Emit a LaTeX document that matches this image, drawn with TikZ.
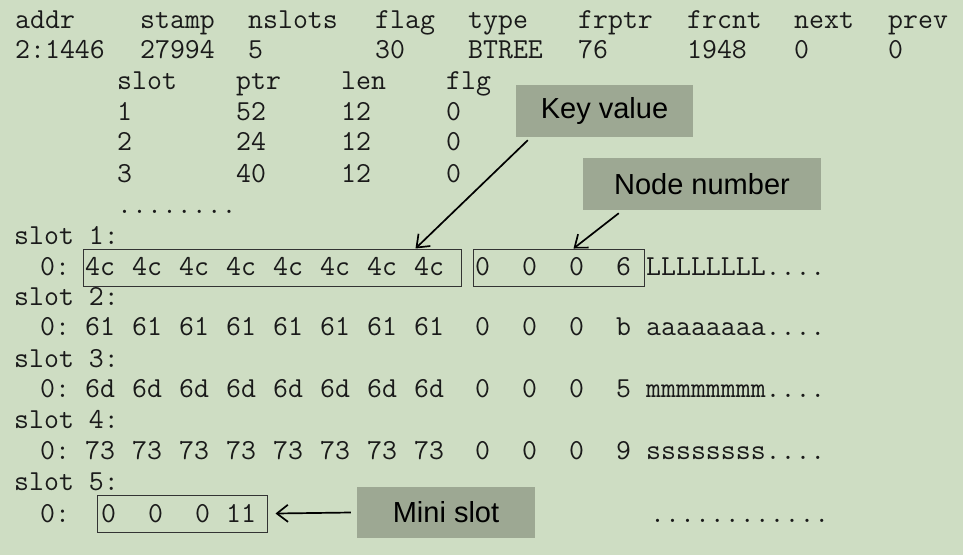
\documentclass[tikz,border=0pt]{standalone}
\usepackage{fontspec}
\newfontfamily\lappfont{Liberation Sans}
\usetikzlibrary{arrows.meta, positioning}
\definecolor{bakgrunn}{HTML}{CEDDC3}
\definecolor{lappfarge}{HTML}{9DA893}
\definecolor{skrift}{HTML}{1A1A1A}

\begin{document}
\begin{tikzpicture}[
    x = 1pt, y = -1pt,
    tekst/.style = {anchor=base west, inner sep=0pt, text=skrift, font=\fontsize{29}{31}\selectfont\ttfamily},
    ramme/.style = {rectangle, draw=black!80, line width=1pt, minimum height=37pt, inner sep=0pt},
    lapp/.style = {rectangle, fill=lappfarge, minimum height=52pt, inner sep=0pt, font=\fontsize{29}{34}\selectfont\lappfont},
    pil/.style = {black, line width=1.7pt, -{Straight Barb[length=11pt,width=17pt]}}
    ]

  \fill[bakgrunn] (0,0) rectangle (963,555);
  \useasboundingbox (0,0) rectangle (963,555);

  % page header
  \foreach \x/\a/\b [count=\i] in {15/addr/2:1446, 140/stamp/27994, 248/nslots/5, 375/flag/30,
      468/type/BTREE, 578/frptr/76, 687/frcnt/1948, 794/next/0, 888/prev/0}
  {
    \node[tekst] (hd\i) at (\x,28) {\a};
    \node[tekst] (hv\i) at (\x,58) {\b};
  }

  % slot table
  \foreach \y/\s/\p/\l/\f [count=\i] in {89/slot/ptr/len/flg, 120/1/52/12/0, 150/2/24/12/0, 182/3/40/12/0}
  {
    \node[tekst] (ts\i) at (117,\y) {\s};
    \node[tekst] (tp\i) at (236,\y) {\p};
    \node[tekst] (tl\i) at (341,\y) {\l};
    \node[tekst] (tf\i) at (446,\y) {\f};
  }
  \node[tekst] (tdots) at (117,213) {........};

  % slots
  \foreach \n/\y in {1/244, 2/305, 3/367, 4/428, 5/490}
    \node[tekst] (sl\n) at (14,\y) {slot \n:};

  \foreach \r/\y/\h/\k/\t in {1/275/4c/6/LLLLLLLL, 2/335/61/b/aaaaaaaa,
      3/397/6d/5/mmmmmmmm, 4/459/73/9/ssssssss}
  {
    \node[tekst] (nr\r) at (40,\y) {0:};
    \foreach \x [count=\c] in {85,132,179,226,273,320,367,414}
      \node[tekst] (b\r\c) at (\x,\y) {\h};
    \foreach \x [count=\c] in {475,522,569}
      \node[tekst] (z\r\c) at (\x,\y) {0};
    \node[tekst] (k\r) at (616,\y) {\k};
    \node[tekst] (t\r) at (646,\y) {\t....};
  }

  \node[tekst] (nr5) at (40,522) {0:};
  \foreach \x/\v [count=\c] in {101/0, 148/0, 195/0, 226/11}
    \node[tekst] (m\c) at (\x,522) {\v};
  \node[tekst] (t5) at (650,522) {............};

  % frames
  \node[ramme, minimum width=378pt] (nokkel) at (272,267.5) {};
  \node[ramme, minimum width=171pt] (nodenr) at (558.5,267.5) {};
  \node[ramme, minimum width=170pt] (mini) at (182,513.5) {};

  % callouts
  \node[lapp, minimum width=177pt] (kv) at (604.5,111) {Key value};
  \node[lapp, minimum width=238pt] (nn) at (702,184) {Node number};
  \node[lapp, minimum width=178pt, minimum height=51pt] (ms) at (446,512.5) {Mini slot};

  \draw[pil] ([xshift=12pt,yshift=-3pt]kv.south west) -- ([xshift=-46pt]nokkel.north east);
  \draw[pil] ([xshift=36pt,yshift=-3pt]nn.south west) -- ([xshift=-71pt]nodenr.north east);
  \draw[pil] ([xshift=-6pt]ms.west) -- ([xshift=8pt]mini.east);

\end{tikzpicture}
\end{document}
